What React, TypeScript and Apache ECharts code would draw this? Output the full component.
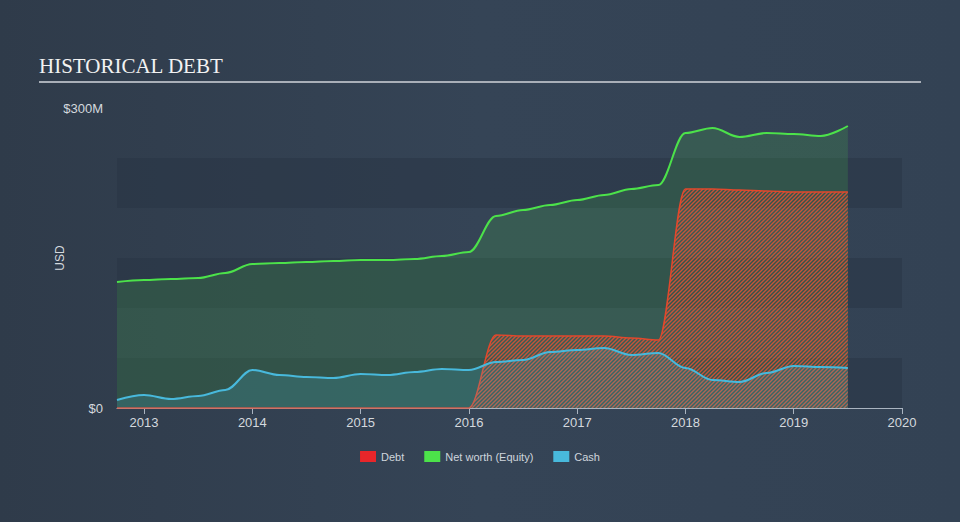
import React, { useEffect, useRef } from "react";
import * as echarts from "echarts";

const quarters = [
  2012.75, 2013.0, 2013.25, 2013.5, 2013.75, 2014.0, 2014.25, 2014.5, 2014.75,
  2015.0, 2015.25, 2015.5, 2015.75, 2016.0, 2016.25, 2016.5, 2016.75, 2017.0,
  2017.25, 2017.5, 2017.75, 2018.0, 2018.25, 2018.5, 2018.75, 2019.0, 2019.25, 2019.5,
];
const debt = [
  0, 0, 0, 0, 0, 0, 0, 0, 0, 0, 0, 0, 0, 0, 73, 72, 72, 72, 72, 70, 68, 219, 219,
  218, 217, 216, 216, 216,
];
const netWorth = [
  126, 128, 129, 130, 135, 144, 145, 146, 147, 148, 148, 149, 152, 156, 192, 198,
  203, 208, 213, 219, 223, 275, 280, 271, 275, 274, 272, 282,
];
const cash = [
  8, 13, 9, 12, 18, 38, 33, 31, 30, 34, 33, 36, 39, 38, 46, 48, 56, 58, 60, 53,
  55, 40, 28, 26, 35, 42, 41, 40,
];
const yearTicks = [2013, 2014, 2015, 2016, 2017, 2018, 2019, 2020];
const legendNames = ["Debt", "Net worth (Equity)", "Cash"];

function makeHatch(): HTMLCanvasElement {
  const s = 4;
  const c = document.createElement("canvas");
  c.width = s;
  c.height = s;
  const ctx = c.getContext("2d")!;
  ctx.strokeStyle = "rgba(228,84,52,0.82)";
  ctx.lineWidth = 1.4;
  ctx.beginPath();
  ctx.moveTo(0, s);
  ctx.lineTo(s, 0);
  ctx.moveTo(-1, 1);
  ctx.lineTo(1, -1);
  ctx.moveTo(s - 1, s + 1);
  ctx.lineTo(s + 1, s - 1);
  ctx.stroke();
  return c;
}

export default function App() {
  const ref = useRef<HTMLDivElement>(null);
  useEffect(() => {
    if (!ref.current) return;
    const chart = echarts.init(ref.current, undefined, { renderer: "svg" });
    const pair = (vals: number[]) => quarters.map((q, i) => [q, vals[i]]);
    const font = "Liberation Sans";
    chart.setOption({
      animation: false,
      backgroundColor: {
        type: "linear",
        x: 0,
        y: 0,
        x2: 1,
        y2: 0,
        colorStops: [
          { offset: 0, color: "#2f3b4a" },
          { offset: 0.5, color: "#354456" },
          { offset: 1, color: "#334254" },
        ],
      },
      title: {
        text: "HISTORICAL DEBT",
        left: 39,
        top: 55,
        padding: 0,
        textStyle: {
          fontFamily: "Liberation Serif",
          fontSize: 21,
          fontWeight: "normal",
          color: "#f2f2f2",
        },
      },
      graphic: [
        {
          type: "line",
          shape: { x1: 39, y1: 82, x2: 921, y2: 82 },
          style: { stroke: "#a9afb8", lineWidth: 2 },
        },
      ],
      legend: {
        data: legendNames,
        bottom: 55,
        left: "center",
        icon: "rect",
        itemWidth: 16,
        itemHeight: 11,
        itemGap: 20,
        textStyle: { color: "#cfd5dc", fontSize: 11, fontFamily: font },
      },
      grid: { left: 117, right: 58, top: 108, bottom: 114 },
      xAxis: {
        type: "value",
        min: 2012.75,
        max: 2020,
        axisLine: { show: true, lineStyle: { color: "#aab4c0", width: 1 } },
        axisTick: {
          show: true,
          length: 6,
          customValues: yearTicks,
          lineStyle: { color: "#aab4c0" },
        },
        axisLabel: {
          customValues: yearTicks,
          color: "#d4d9de",
          fontSize: 13,
          fontFamily: font,
          margin: 8,
          formatter: (v: number) => String(v),
        },
        splitLine: { show: false },
      },
      yAxis: {
        type: "value",
        min: 0,
        max: 300,
        interval: 50,
        name: "USD",
        nameLocation: "middle",
        nameGap: 51,
        nameMoveOverlap: false,
        nameTextStyle: { color: "#d4d9de", fontSize: 12, fontFamily: font },
        axisLine: { show: false },
        axisTick: { show: false },
        axisLabel: {
          color: "#d4d9de",
          fontSize: 13,
          fontFamily: font,
          margin: 14,
          formatter: (v: number) => (v === 0 ? "$0" : v === 300 ? "$300M" : ""),
        },
        splitLine: { show: false },
        splitArea: {
          show: true,
          areaStyle: { color: ["rgba(40,52,68,0.5)", "rgba(0,0,0,0)"] },
        },
      },
      series: [
        {
          name: "Net worth (Equity)",
          type: "line",
          data: pair(netWorth),
          smooth: 0.35,
          smoothMonotone: "x",
          showSymbol: false,
          symbol: "none",
          lineStyle: { color: "#4ce24a", width: 2 },
          itemStyle: { color: "#4ce24a" },
          areaStyle: { color: "rgba(76,224,74,0.22)" },
          z: 2,
        },
        {
          name: "Debt",
          type: "line",
          data: pair(debt),
          smooth: 0.35,
          smoothMonotone: "x",
          showSymbol: false,
          symbol: "none",
          lineStyle: { color: "#e2482c", width: 1.5 },
          itemStyle: { color: "#e8262a" },
          areaStyle: { color: { image: makeHatch(), repeat: "repeat" }, opacity: 1 },
          z: 3,
        },
        {
          name: "Cash",
          type: "line",
          data: pair(cash),
          smooth: 0.35,
          smoothMonotone: "x",
          showSymbol: false,
          symbol: "none",
          lineStyle: { color: "#48b9dc", width: 2 },
          itemStyle: { color: "#48b9dc" },
          areaStyle: { color: "rgba(72,185,220,0.25)" },
          z: 4,
        },
      ],
    });
    return () => chart.dispose();
  }, []);
  return (
    <div
      ref={ref}
      style={{ position: "fixed", left: 0, top: 0, width: 960, height: 522 }}
    />
  );
}
